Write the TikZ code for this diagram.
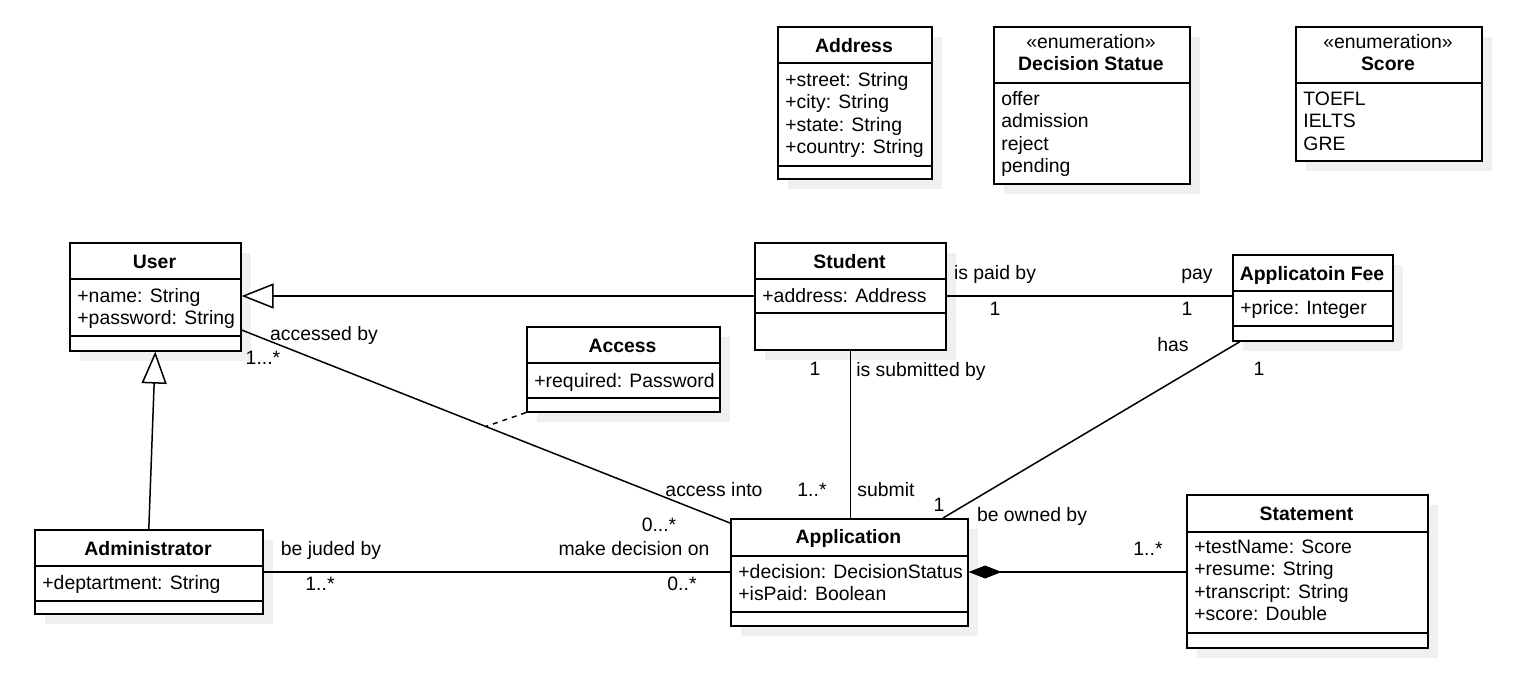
\documentclass[tikz,border=0pt]{standalone}
\usepackage{fontspec}
\setmainfont{Liberation Sans}
\usetikzlibrary{arrows.meta,shadows}

\newcommand\umlsize{\fontsize{9.7}{11.25}\selectfont}

\tikzset{
  cls/.style={draw, fill=white, line width=0.8pt, inner sep=0pt, anchor=north west,
    general shadow={fill=black!6, shadow xshift=5pt, shadow yshift=-5pt}},
  ttl/.style={font=\umlsize\bfseries, anchor=base, inner sep=0pt},
  att/.style={font=\umlsize, anchor=base west, inner sep=0pt},
  lbl/.style={font=\umlsize, anchor=base, inner sep=0pt},
  divider/.style={line width=0.8pt},
  assoc/.style={line width=0.75pt},
  gen/.style={assoc, -{Triangle[open, fill=white, length=16pt, width=12.5pt]}},
}

\begin{document}
\begin{tikzpicture}[x=0.5pt, y=-0.5pt]
  \useasboundingbox (0,0) rectangle (1522,696);

  % Address
  \node[cls, minimum width=77pt, minimum height=76pt] (address) at (777,26) {};
  \node[ttl] (address-t) at (854,52) {Address};
  \draw[divider] (address.west |- 0,63) -- (address.east |- 0,63);
  \draw[divider] (address.west |- 0,166) -- (address.east |- 0,166);
  \foreach \a [count=\i from 0] in {+street: String, +city: String, +state: String, +country: String}
    \node[att] (address-\i) at (785,{86+22.5*\i}) {\a};

  % Decision Statue
  \node[cls, minimum width=98pt, minimum height=78.5pt] (decision) at (993,26) {};
  \node[lbl] (decision-s) at (1091,48) {«enumeration»};
  \node[ttl] (decision-t) at (1091,70) {Decision Statue};
  \draw[divider] (decision.west |- 0,83) -- (decision.east |- 0,83);
  \foreach \a [count=\i from 0] in {offer, admission, reject, pending}
    \node[att] (decision-\i) at (1001,{105+22.5*\i}) {\a};

  % Score
  \node[cls, minimum width=93pt, minimum height=67pt] (score) at (1295,26) {};
  \node[lbl] (score-s) at (1388,48) {«enumeration»};
  \node[ttl] (score-t) at (1388,70) {Score};
  \draw[divider] (score.west |- 0,83) -- (score.east |- 0,83);
  \foreach \a [count=\i from 0] in {TOEFL, IELTS, GRE}
    \node[att] (score-\i) at (1303,{105+22.5*\i}) {\a};

  % User
  \node[cls, minimum width=85.5pt, minimum height=54pt] (user) at (69,242) {};
  \node[ttl] (user-t) at (154.5,268) {User};
  \draw[divider] (user.west |- 0,279) -- (user.east |- 0,279);
  \draw[divider] (user.west |- 0,336) -- (user.east |- 0,336);
  \foreach \a [count=\i from 0] in {+name: String, +password: String}
    \node[att] (user-\i) at (77,{302+22.5*\i}) {\a};

  % Student
  \node[cls, minimum width=95.5pt, minimum height=53.5pt] (student) at (754,242) {};
  \node[ttl] (student-t) at (849.5,268) {Student};
  \draw[divider] (student.west |- 0,279) -- (student.east |- 0,279);
  \draw[divider] (student.west |- 0,313) -- (student.east |- 0,313);
  \node[att] (student-0) at (762,302) {+address: Address};

  % Applicatoin Fee
  \node[cls, minimum width=80pt, minimum height=43pt] (fee) at (1232,254) {};
  \node[ttl] (fee-t) at (1312,280) {Applicatoin Fee};
  \draw[divider] (fee.west |- 0,291) -- (fee.east |- 0,291);
  \draw[divider] (fee.west |- 0,326) -- (fee.east |- 0,326);
  \node[att] (fee-0) at (1240,314) {+price: Integer};

  % Access
  \node[cls, minimum width=96.5pt, minimum height=42.5pt] (access) at (526,326) {};
  \node[ttl] (access-t) at (622.5,352) {Access};
  \draw[divider] (access.west |- 0,363) -- (access.east |- 0,363);
  \draw[divider] (access.west |- 0,398) -- (access.east |- 0,398);
  \node[att] (access-0) at (534,387) {+required: Password};

  % Administrator
  \node[cls, minimum width=114pt, minimum height=42pt] (admin) at (34,529) {};
  \node[ttl] (admin-t) at (148,555) {Administrator};
  \draw[divider] (admin.west |- 0,566) -- (admin.east |- 0,566);
  \draw[divider] (admin.west |- 0,601) -- (admin.east |- 0,601);
  \node[att] (admin-0) at (42,589) {+deptartment: String};

  % Application
  \node[cls, minimum width=118.5pt, minimum height=53.5pt] (application) at (730,518) {};
  \node[ttl] (application-t) at (848.5,543) {Application};
  \draw[divider] (application.west |- 0,556) -- (application.east |- 0,556);
  \draw[divider] (application.west |- 0,612) -- (application.east |- 0,612);
  \foreach \a [count=\i from 0] in {+decision: DecisionStatus, +isPaid: Boolean}
    \node[att] (application-\i) at (738,{578+22.5*\i}) {\a};

  % Statement
  \node[cls, minimum width=120.5pt, minimum height=76.5pt] (statement) at (1186,494) {};
  \node[ttl] (statement-t) at (1306.5,520) {Statement};
  \draw[divider] (statement.west |- 0,532) -- (statement.east |- 0,532);
  \draw[divider] (statement.west |- 0,633) -- (statement.east |- 0,633);
  \foreach \a [count=\i from 0] in {+testName: Score, +resume: String, +transcript: String, +score: Double}
    \node[att] (statement-\i) at (1194,{553+22.5*\i}) {\a};

  % generalisations
  \draw[gen] (student.west |- 0,296) -- (user.east |- 0,296);
  \draw[gen] (admin.north) -- (user.south);

  % associations
  \draw[assoc] (user.east |- 0,330) -- coordinate[pos=.5] (acc) (application.west |- 0,523);
  \draw[assoc, dashed, dash pattern=on 2.5pt off 2.5pt] (access.south west) -- (acc);
  \draw[assoc] (student.east |- 0,296) -- (fee.west |- 0,296);
  \draw[assoc] (student.south) -- (student.south |- application.north);
  \draw[assoc] ([xshift=4pt]fee.south west) -- (943,0 |- application.north);
  \draw[assoc] (admin.east |- 0,572) -- (application.west |- 0,572);
  \draw[assoc, -{Diamond[length=16.5pt, width=6.5pt]}] (statement.west |- 0,572) -- (application.east |- 0,572);

  % role names and multiplicities
  \node[lbl] (accby) at (324,340) {accessed by};
  \node[lbl] (m-user) at (263,364) {1...*};
  \node[lbl] (accinto) at (714,496) {access into};
  \node[lbl] (m-acc) at (659,531) {0...*};
  \node[lbl] (paidby) at (995,279) {is paid by};
  \node[lbl] (m-stu) at (995,315) {1};
  \node[lbl] (pay) at (1197,279) {pay};
  \node[lbl] (m-fee) at (1187,315) {1};
  \node[lbl] (m-sub) at (815,375) {1};
  \node[lbl] (subby) at (921,376) {is submitted by};
  \node[lbl] (m-app) at (812,496) {1..*};
  \node[lbl] (submit) at (886,496) {submit};
  \node[lbl] (has) at (1173,351) {has};
  \node[lbl] (m-has) at (1259,375) {1};
  \node[lbl] (m-own) at (939,511) {1};
  \node[lbl] (ownby) at (1032,521) {be owned by};
  \node[lbl] (judby) at (331,555) {be juded by};
  \node[lbl] (m-adm) at (320,590) {1..*};
  \node[lbl] (decon) at (634,555) {make decision on};
  \node[lbl] (m-dec) at (682,590) {0..*};
  \node[lbl] (m-stm) at (1148,555) {1..*};
\end{tikzpicture}
\end{document}
